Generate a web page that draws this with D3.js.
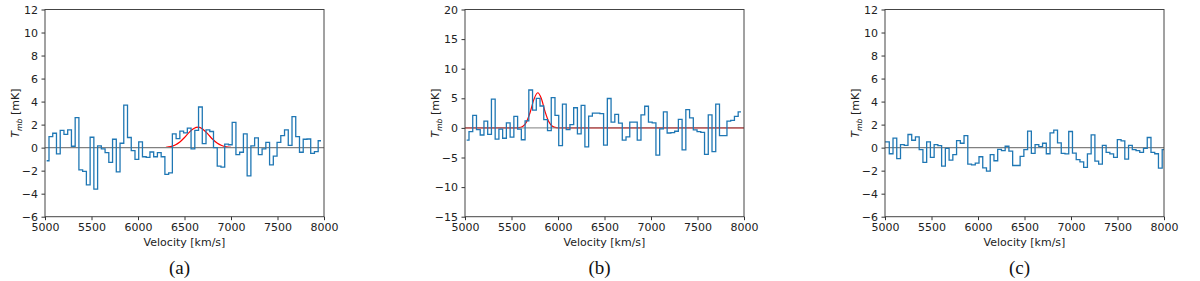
<!DOCTYPE html>
<html>
<head>
<meta charset="utf-8">
<script src="https://cdn.jsdelivr.net/npm/d3@7"></script>
<style>
  html, body { margin: 0; padding: 0; background: #fff; }
  svg { display: block; }
  .tick text { font-family: "DejaVu Sans", sans-serif; font-size: 11px; fill: #222; }
  .tick line { stroke: #333; }
</style>
</head>
<body>
<div id="chart"></div>
<script>
// Velocity axis, shared by all three panels
const velocityTicks = [5000, 5500, 6000, 6500, 7000, 7500, 8000];
const velocityDomain = [5000, 8000];

// Y axis ticks per panel
const yTicksA = [-6, -4, -2, 0, 2, 4, 6, 8, 10, 12];
const yTicksB = [-15, -10, -5, 0, 5, 10, 15, 20];
const yTicksC = [-6, -4, -2, 0, 2, 4, 6, 8, 10, 12];

// Channel grid: first visible velocity, first channel edge, channel width, last visible velocity
const channelsA = { start: 5018, firstEdge: 5043, width: 40.2, end: 7968 };
const channelsB = { start: 5018, firstEdge: 5043, width: 40.2, end: 7968 };
const channelsC = { start: 5000, firstEdge: 5046, width: 40.2, end: 8000 };

// Tmb [mK] per channel
const valuesA = [-1.14, 0.96, 1.25, -0.55, 1.5, 1.15, 1.55, 0.12, 2.6, -1.93,
  -2.07, -3.24, 0.9, -3.6, 0.15, -0.1, -0.44, -1.28, 0.73, -2.1,
  0.38, 3.7, 0.88, -0.26, -1.02, 0.5, -0.79, -0.85, -0.38, -0.79,
  -0.44, -0.79, -2.33, -2.19, 1.2, 0.79, 1.43, 1.28, 1.7, -0.1,
  1.5, 3.53, 0.35, 1.55, 1.4, 0.0, -1.6, -1.7, 0.3, 0.25,
  2.2, -0.6, -0.4, 1.2, -2.45, 0.15, 0.85, -0.6, -0.1, 0.45,
  -1.5, -0.73, 0.45, 1.05, 1.55, 0.2, 2.7, 0.95, -0.4, 0.73,
  0.75, -0.5, -0.35, 0.6];

const valuesB = [-2.06, -0.63, 2.1, -0.3, -1.2, 1.14, -1.1, 4.86, -1.9, -0.2,
  -1.75, 0.86, -1.55, 1.94, -0.2, -2.0, 1.2, 6.4, 3.0, 5.0,
  3.7, 1.4, -0.45, 5.1, 2.1, -3.0, 4.0, -0.3, 0.57, 3.4,
  -1.0, 3.8, -3.2, 2.0, 2.5, 2.5, 2.4, -2.9, 4.97, 0.97,
  2.3, 0.8, -2.06, -1.5, 0.97, 0.97, -2.06, 2.2, 3.66, 0.97,
  0.86, -4.6, -0.17, 2.7, -0.86, -0.8, -0.57, 1.43, -3.7, 3.1,
  1.7, -0.34, -0.63, -0.74, -4.46, 2.2, -4.0, 4.0, -1.3, -1.3,
  1.14, 1.26, 1.94, 2.7];

const valuesC = [0.5, -0.53, 0.82, -0.96, 0.26, 0.2, 1.14, 0.64, 0.93, -0.18,
  -1.28, 0.5, -0.85, 0.26, 0.18, -1.6, -0.06, -1.08, -0.61, 0.61,
  0.38, 1.05, -1.43, -1.49, -1.34, -0.79, -1.75, -2.04, -0.61, -1.14,
  -0.15, -0.26, 0.12, -0.3, -1.55, -1.55, -0.76, -0.18, 1.43, -0.5,
  0.26, 0.09, 0.38, -0.53, 1.28, 1.52, 0.41, -0.5, -0.55, 1.4,
  -0.47, -1.05, -1.23, -1.72, -0.55, 1.11, -1.17, -1.43, 0.2, -0.41,
  -0.55, -0.85, 0.7, 0.58, -0.99, 0.2, -0.18, -0.26, -0.41, -0.06,
  0.88, -0.41, -0.53, -1.78, -0.18];

// Gaussian fits (red), sampled off the figure
const fitVelA = [6300, 6350, 6400, 6450, 6500, 6550, 6600, 6650, 6700, 6750, 6800, 6850, 6900, 6950, 7000];
const fitValA = [0.03, 0.09, 0.23, 0.49, 0.88, 1.33, 1.67, 1.78, 1.58, 1.19, 0.75, 0.40, 0.18, 0.07, 0.02];
const fitVelB = [5000, 5540, 5580, 5620, 5660, 5700, 5740, 5782, 5820, 5860, 5900, 5940, 5980, 6020, 8000];
const fitValB = [0, 0.01, 0.04, 0.24, 0.97, 2.6, 4.77, 5.94, 5.0, 2.8, 1.08, 0.29, 0.05, 0.01, 0];

const panelsInfo = [
  { caption: '(a)', yDomain: [-6, 12], yTicks: yTicksA, channels: channelsA, values: valuesA, fitVel: fitVelA, fitVal: fitValA },
  { caption: '(b)', yDomain: [-15, 20], yTicks: yTicksB, channels: channelsB, values: valuesB, fitVel: fitVelB, fitVal: fitValB },
  { caption: '(c)', yDomain: [-6, 12], yTicks: yTicksC, channels: channelsC, values: valuesC, fitVel: null, fitVal: null }
];

// Layout
const W = 1200, H = 281;
const plotLefts = [45, 465, 885];
const plotW = 279;
const plotTop = 9.5, plotBottom = 216.7;

const svg = d3.select('#chart').append('svg')
  .attr('width', W)
  .attr('height', H);

svg.append('rect').attr('width', W).attr('height', H).attr('fill', '#fff');

panelsInfo.forEach((p, i) => {
  const left = plotLefts[i];
  const g = svg.append('g').attr('transform', `translate(${left},${plotTop})`);
  const h = plotBottom - plotTop;

  const x = d3.scaleLinear().domain(velocityDomain).range([0, plotW]);
  const y = d3.scaleLinear().domain(p.yDomain).range([h, 0]);

  const clipId = 'clip' + i;
  g.append('clipPath').attr('id', clipId)
    .append('rect').attr('width', plotW).attr('height', h);

  const plot = g.append('g').attr('clip-path', `url(#${clipId})`);

  // step spectrum points: channel edges -> values
  const ch = p.channels;
  const pts = [[ch.start, p.values[0]]];
  p.values.slice(1).forEach((v, k) => pts.push([ch.firstEdge + k * ch.width, v]));
  pts.push([ch.end, p.values[p.values.length - 1]]);

  // red fit
  if (p.fitVel) {
    const fitPts = p.fitVel.map((v, k) => [v, p.fitVal[k]]);
    plot.append('path')
      .attr('d', d3.line().x(d => x(d[0])).y(d => y(d[1])).curve(d3.curveMonotoneX)(fitPts))
      .attr('fill', 'none')
      .attr('stroke', '#ff0000')
      .attr('stroke-width', 1.2);
  }

  // zero line
  plot.append('line')
    .attr('x1', 0).attr('x2', plotW)
    .attr('y1', y(0)).attr('y2', y(0))
    .attr('stroke', '#808080')
    .attr('stroke-opacity', p.fitVel && p.fitVel[0] === 5000 ? 0.8 : 1)
    .attr('stroke-width', 1.2);

  plot.append('path')
    .attr('d', d3.line().x(d => x(d[0])).y(d => y(d[1])).curve(d3.curveStepAfter)(pts))
    .attr('fill', 'none')
    .attr('stroke', '#1f77b4')
    .attr('stroke-width', 1.3);

  // axes
  const xAxis = d3.axisBottom(x).tickValues(velocityTicks).tickFormat(d3.format('d'))
    .tickSize(3.5).tickPadding(3.5).tickSizeOuter(0);
  const yAxis = d3.axisLeft(y).tickValues(p.yTicks).tickFormat(d => d < 0 ? '\u2212' + Math.abs(d) : d)
    .tickSize(3.5).tickPadding(3.5).tickSizeOuter(0);

  const gx = g.append('g').attr('transform', `translate(0,${h})`).call(xAxis);
  const gy = g.append('g').call(yAxis);
  gx.select('.domain').remove();
  gy.select('.domain').remove();

  // frame
  g.append('rect')
    .attr('width', plotW).attr('height', h)
    .attr('fill', 'none')
    .attr('stroke', '#444')
    .attr('stroke-width', 1);

  // x label
  g.append('text')
    .attr('x', plotW / 2)
    .attr('y', h + 29)
    .attr('text-anchor', 'middle')
    .style('font-family', '"DejaVu Sans", sans-serif')
    .style('font-size', '11px')
    .attr('fill', '#222')
    .text('Velocity [km/s]');

  // y label
  const yl = g.append('text')
    .attr('transform', `translate(${-26},${h / 2}) rotate(-90)`)
    .attr('text-anchor', 'middle')
    .style('font-family', '"DejaVu Sans", sans-serif')
    .style('font-size', '11px')
    .attr('fill', '#222');
  yl.append('tspan').style('font-style', 'italic').text('T');
  yl.append('tspan').style('font-style', 'italic').style('font-size', '7.7px').attr('dy', 2.5).text('mb');
  yl.append('tspan').attr('dy', -2.5).text(' [mK]');

  // caption
  svg.append('text')
    .attr('x', left + plotW / 2 - 5)
    .attr('y', 274)
    .attr('text-anchor', 'middle')
    .style('font-family', '"Liberation Serif", "Times New Roman", serif')
    .style('font-size', '19px')
    .attr('fill', '#111')
    .text(p.caption);
});
</script>
</body>
</html>
